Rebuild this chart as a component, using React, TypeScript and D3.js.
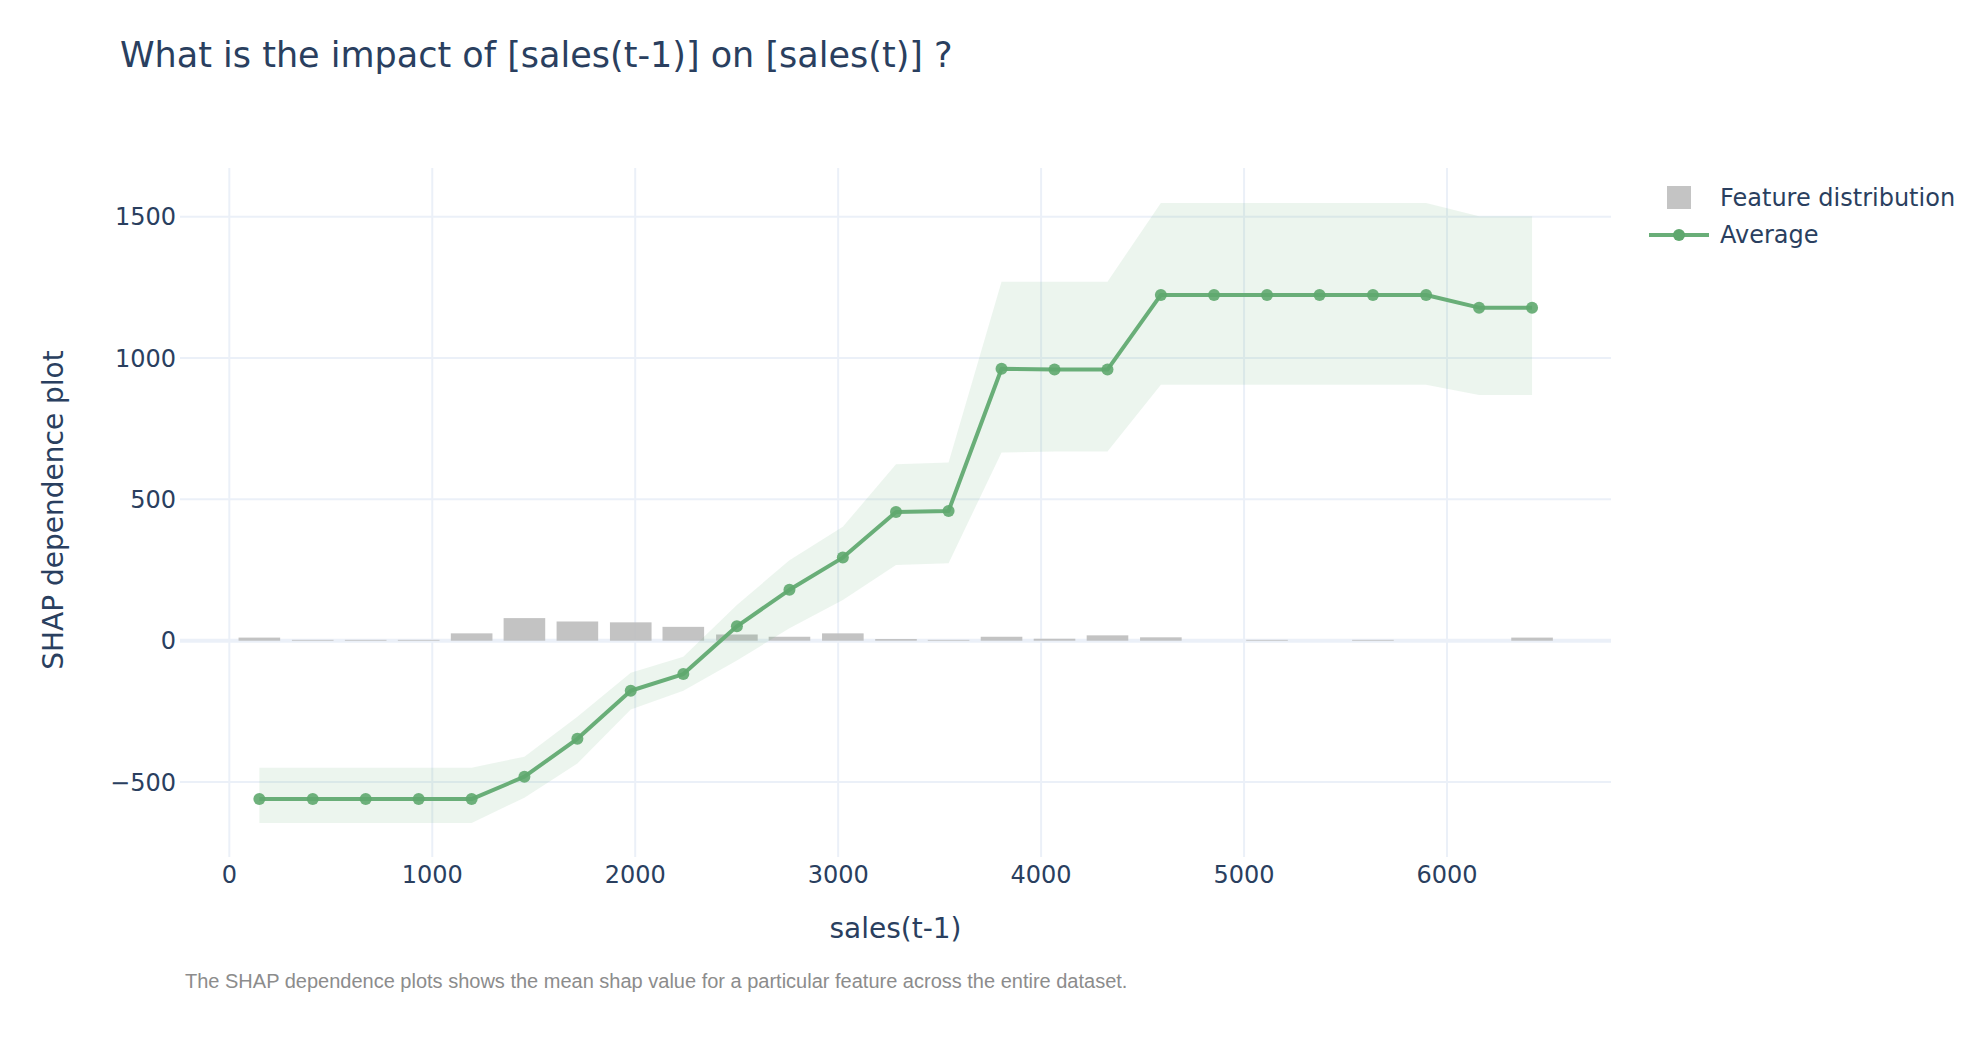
import * as d3 from 'd3';

const xValues = [148, 411, 672, 933, 1194, 1454, 1715, 1978, 2237, 2501, 2760, 3023, 3285, 3544, 3805, 4066, 4327, 4590, 4852, 5113, 5372, 5635, 5897, 6158, 6419];
const averageShap = [-560, -560, -560, -560, -560, -481, -347, -177, -118, 51, 180, 294, 455, 459, 962, 959, 959, 1223, 1223, 1223, 1223, 1223, 1223, 1178, 1178];
const upperShap = [-449, -449, -449, -449, -449, -410, -269, -113, -57, 126, 285, 403, 624, 630, 1270, 1270, 1270, 1548, 1548, 1548, 1548, 1548, 1548, 1501, 1501];
const lowerShap = [-645, -645, -645, -645, -645, -555, -434, -243, -177, -70, 44, 144, 268, 274, 666, 669, 669, 905, 905, 905, 905, 905, 905, 869, 869];
const featureDist = [11, 3, 3, 3, 26, 80, 68, 65, 49, 22, 14, 26, 6, 3, 14, 7, 19, 12, 0, 3, 0, 3, 0, 0, 11];
const binWidth = 205;

const xTicks = [0, 1000, 2000, 3000, 4000, 5000, 6000];
const yTicks = [-500, 0, 500, 1000, 1500];

const title = 'What is the impact of [sales(t-1)] on [sales(t)] ?';
const xTitle = 'sales(t-1)';
const yTitle = 'SHAP dependence plot';
const footnote = 'The SHAP dependence plots shows the mean shap value for a particular feature across the entire dataset.';
const legendLabels = ['Feature distribution', 'Average'];

export default function App() {
  const width = 1974;
  const height = 1042;
  const plot = { left: 180, right: 1611, top: 168, bottom: 857 };

  const x = d3.scaleLinear().domain([-243, 6808]).range([plot.left, plot.right]);
  const y = d3.scaleLinear().domain([-765, 1672]).range([plot.bottom, plot.top]);

  const textColor = '#2a3f5f';
  const grid = '#ebf0f8';
  const green = '#69ae78';
  const font = '"DejaVu Sans", Verdana, sans-serif';

  const rows = xValues.map((v, i) => ({
    x: v,
    avg: averageShap[i],
    hi: upperShap[i],
    lo: lowerShap[i],
    count: featureDist[i],
  }));

  const band = d3
    .area<(typeof rows)[number]>()
    .x((d) => x(d.x))
    .y0((d) => y(d.lo))
    .y1((d) => y(d.hi))(rows);

  const line = d3
    .line<(typeof rows)[number]>()
    .x((d) => x(d.x))
    .y((d) => y(d.avg))(rows);

  return (
    <svg
      width={width}
      height={height}
      style={{ position: 'absolute', left: 0, top: 0, display: 'block', background: '#fff' }}
      fontFamily={font}
    >
      <text x={120} y={67} fontSize={35} fill={textColor}>
        {title}
      </text>

      {/* grid */}
      {xTicks.map((t) => (
        <line key={`gx${t}`} x1={x(t)} x2={x(t)} y1={plot.top} y2={plot.bottom} stroke={grid} strokeWidth={2} />
      ))}
      {yTicks
        .filter((t) => t !== 0)
        .map((t) => (
          <line key={`gy${t}`} x1={plot.left} x2={plot.right} y1={y(t)} y2={y(t)} stroke={grid} strokeWidth={2} />
        ))}
      <line x1={plot.left} x2={plot.right} y1={y(0)} y2={y(0)} stroke={grid} strokeWidth={4} />

      {/* feature distribution bars */}
      {rows.map((d, i) =>
        d.count > 0 ? (
          <rect
            key={`b${i}`}
            x={x(d.x - binWidth / 2)}
            y={y(d.count)}
            width={x(d.x + binWidth / 2) - x(d.x - binWidth / 2)}
            height={y(0) - y(d.count)}
            fill="#bdbdbd"
            opacity={0.9}
          />
        ) : null
      )}

      <path d={band ?? ''} fill="rgba(105,178,120,0.13)" />
      <path d={line ?? ''} fill="none" stroke={green} strokeWidth={4} strokeLinejoin="round" />
      {rows.map((d, i) => (
        <circle key={`p${i}`} cx={x(d.x)} cy={y(d.avg)} r={6} fill="#5fa86e" opacity={0.9} />
      ))}

      {/* tick labels */}
      {yTicks.map((t) => (
        <text key={`ty${t}`} x={176} y={y(t)} dy="0.36em" textAnchor="end" fontSize={24} fill={textColor}>
          {t < 0 ? `\u2212${Math.abs(t)}` : t}
        </text>
      ))}
      {xTicks.map((t) => (
        <text key={`tx${t}`} x={x(t)} y={883} textAnchor="middle" fontSize={24} fill={textColor}>
          {t}
        </text>
      ))}

      <text x={(plot.left + plot.right) / 2} y={938} textAnchor="middle" fontSize={28} fill={textColor}>
        {xTitle}
      </text>
      <text transform="translate(63,510) rotate(-90)" textAnchor="middle" fontSize={28} fill={textColor}>
        {yTitle}
      </text>

      {/* legend */}
      <rect x={1667} y={186} width={24} height={23} fill="#c4c4c4" />
      <text x={1720} y={206} fontSize={24} fill={textColor}>
        {legendLabels[0]}
      </text>
      <line x1={1649} x2={1709} y1={235} y2={235} stroke={green} strokeWidth={4} />
      <circle cx={1679} cy={235} r={6} fill="#5fa86e" />
      <text x={1720} y={243} fontSize={24} fill={textColor}>
        {legendLabels[1]}
      </text>

      <text x={185} y={988} fontSize={20} fill="#8c8c8c" fontFamily='"Liberation Sans", Arial, sans-serif'>
        {footnote}
      </text>
    </svg>
  );
}
